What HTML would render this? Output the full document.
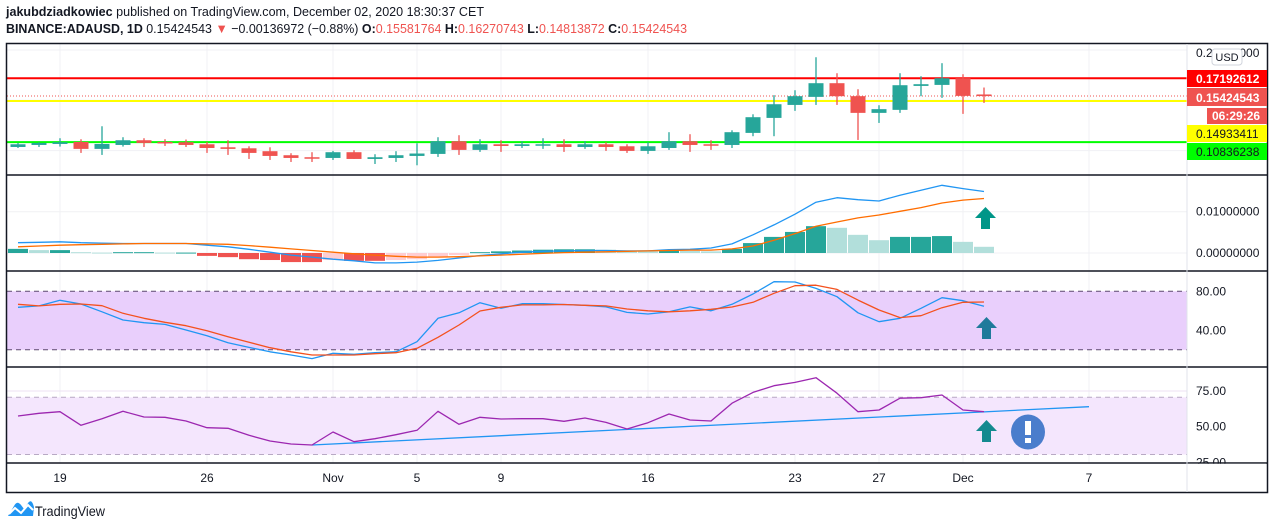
<!DOCTYPE html>
<html><head><meta charset="utf-8"><style>
html,body{margin:0;padding:0;background:#fff;}
svg{display:block;font-family:"Liberation Sans",sans-serif;}
</style></head><body>
<svg id="chart" width="1274" height="529" viewBox="0 0 1274 529" xmlns="http://www.w3.org/2000/svg">
<text x="6" y="16" font-size="13" fill="#131722" textLength="478" lengthAdjust="spacingAndGlyphs"><tspan font-weight="bold">jakubdziadkowiec</tspan> published on TradingView.com, December 02, 2020 18:30:37 CET</text>
<text x="6" y="33" font-size="13" fill="#131722" textLength="681" lengthAdjust="spacingAndGlyphs"><tspan font-weight="bold">BINANCE:ADAUSD, 1D</tspan> 0.15424543 <tspan fill="#ef5350">▼</tspan> −0.00136972 (−0.88%) <tspan font-weight="bold">O:</tspan><tspan fill="#ef5350">0.15581764</tspan> <tspan font-weight="bold">H:</tspan><tspan fill="#ef5350">0.16270743</tspan> <tspan font-weight="bold">L:</tspan><tspan fill="#ef5350">0.14813872</tspan> <tspan font-weight="bold">C:</tspan><tspan fill="#ef5350">0.15424543</tspan></text>

<defs>
<clipPath id="cMain"><rect x="7" y="44" width="1180" height="131"/></clipPath>
<clipPath id="cMacd"><rect x="7" y="176" width="1180" height="95"/></clipPath>
<clipPath id="cSto"><rect x="7" y="272" width="1180" height="95"/></clipPath>
<clipPath id="cRsi"><rect x="7" y="368" width="1180" height="95"/></clipPath>
</defs>

<g id="grid"></g>
<!-- stochastic band -->
<rect x="7" y="291.3" width="1180" height="58.5" fill="#e9cffc"/>
<rect x="7" y="397.3" width="1180" height="57.2" fill="#f4e6fd"/>
<line x1="7" x2="1187" y1="291.3" y2="291.3" stroke="#5d4a6e" stroke-dasharray="5,4"/>
<line x1="7" x2="1187" y1="349.8" y2="349.8" stroke="#5d4a6e" stroke-dasharray="5,4"/>
<line x1="7" x2="1187" y1="397.3" y2="397.3" stroke="#b8a9c4" stroke-dasharray="5,4"/>
<line x1="7" x2="1187" y1="454.5" y2="454.5" stroke="#b8a9c4" stroke-dasharray="5,4"/>

<g id="main" clip-path="url(#cMain)"></g>
<g id="macd" clip-path="url(#cMacd)"></g>
<g id="sto" clip-path="url(#cSto)"></g>
<g id="rsi" clip-path="url(#cRsi)"></g>

<!-- frames -->
<g stroke="#131722" fill="none">
<rect x="6.5" y="43.5" width="1261" height="449" stroke-width="1.5"/>
<line x1="6" x2="1268" y1="175" y2="175" stroke-width="1.5"/>
<line x1="6" x2="1268" y1="271" y2="271" stroke-width="1.5"/>
<line x1="6" x2="1268" y1="367" y2="367" stroke-width="1.5"/>
<line x1="6" x2="1268" y1="463" y2="463" stroke-width="1.5"/>
<line x1="1187" x2="1187" y1="44" y2="492" stroke="#e0e3eb" stroke-width="1"/>
</g>

<g id="axes" font-size="12" fill="#131722"></g>

<!-- markers -->
<path d="M975,218 L985.5,207 L996,218 L990,218 L990,229 L981,229 L981,218 Z" fill="#009688"/>
<path d="M976,328 L986.5,317 L997,328 L991,328 L991,339 L982,339 L982,328 Z" fill="#1f7a9b"/>
<path d="M976,431 L986.5,420 L997,431 L991,431 L991,442 L982,442 L982,431 Z" fill="#138a8f"/>
<g>
<ellipse cx="1028" cy="432" rx="17" ry="17.5" fill="#4a7dcc"/>
<rect x="1025" y="421" width="6" height="14" fill="#fff"/>
<rect x="1025" y="438" width="6" height="5" fill="#fff"/>
</g>

<!-- logo -->
<g>
<path d="M8,516 L14,506 Q17,500 21,505 L24,509 L28,503 Q31,499 33,504 L34,507 L33,516 Z" fill="#2196f3"/>
<path d="M9,514 L15,508 L21,513 L28,505 L33,510" stroke="#fff" stroke-width="2" fill="none"/>
<text x="35" y="516" font-size="14" fill="#131722" textLength="70" lengthAdjust="spacingAndGlyphs">TradingView</text>
</g>
</svg>
<script>
// ---- data ----
const opens  = [.1036,.1056,.1066,.1086,.1017,.1056,.1103,.1086,.1083,.1063,.1033,.1023,.0994,.0954,.0934,.0927,.0984,.0917,.0927,.0947,.0967,.1093,.1007,.1063,.1046,.1056,.1063,.1036,.1063,.1043,.0997,.1026,.1093,.1063,.1056,.1176,.1325,.1454,.1534,.1670,.1541,.1375,.1405,.1643,.1653,.1719,.1558];
const highs  = [.1076,.1083,.1123,.1113,.1242,.1133,.1123,.1113,.1110,.1086,.1103,.1043,.1033,.0974,.0984,.0997,.1004,.0964,.0994,.1073,.1133,.1153,.1113,.1103,.1093,.1123,.1113,.1093,.1083,.1063,.1083,.1183,.1163,.1103,.1202,.1361,.1551,.1600,.1928,.1769,.1610,.1451,.1769,.1739,.1869,.1759,.1627];
const lows   = [.1026,.1036,.1040,.0977,.0957,.1040,.1036,.1046,.1036,.0977,.0957,.0917,.0907,.0887,.0887,.0907,.0917,.0867,.0887,.0854,.0937,.0957,.0987,.0987,.1026,.1017,.0987,.1017,.0997,.0977,.0967,.1007,.0987,.1007,.1026,.1143,.1143,.1395,.1454,.1454,.1106,.1275,.1375,.1541,.1524,.1365,.1474];
const closes = [.1063,.1076,.1083,.1017,.1066,.1103,.1076,.1073,.1056,.1026,.1017,.0977,.0947,.0927,.0927,.0984,.0917,.0934,.0954,.0971,.1093,.1007,.1063,.1046,.1063,.1063,.1036,.1063,.1036,.0997,.1043,.1093,.1056,.1056,.1183,.1332,.1461,.1541,.1670,.1541,.1375,.1412,.1650,.1660,.1719,.1544,.1542];
const hlevels = [0.17192612, 0.14933411, 0.10836238];
const lastPrice = 0.15424543;
const macdHist = [.0010,.0007,.0007,.0002,.0001,.0002,.0002,.0001,.0001,-.0007,-.0010,-.0015,-.0017,-.0022,-.0022,-.0017,-.0019,-.0019,-.0017,-.0015,-.0010,-.0005,.0002,.0004,.0006,.0008,.0009,.0009,.0008,.0005,.0004,.0006,.0005,.0004,.0010,.0024,.0039,.0051,.0065,.0061,.0044,.0031,.0039,.0039,.0041,.0027,.0015];
const macdLine = [.0025,.0026,.0027,.0025,.0024,.0023,.0023,.0023,.0023,.0019,.0015,.0009,.0002,-.0005,-.0010,-.0015,-.0019,-.0024,-.0024,-.0022,-.0018,-.0012,-.0006,-.0002,.0002,.0004,.0005,.0006,.0006,.0005,.0005,.0008,.0009,.0012,.0022,.0044,.0068,.0094,.0123,.0134,.0129,.0126,.0140,.0152,.0164,.0156,.0149];
const signalLine = [.0015,.0017,.0019,.0020,.0021,.0022,.0023,.0023,.0023,.0022,.0021,.0018,.0014,.0010,.0006,.0002,-.0002,-.0005,-.0008,-.0010,-.0010,-.0009,-.0007,-.0005,-.0003,-.0001,.0001,.0002,.0003,.0004,.0005,.0006,.0007,.0007,.0010,.0017,.0031,.0047,.0065,.0075,.0085,.0092,.0101,.0110,.0121,.0128,.0132];
const stochK = [63.6,65,70.8,67,59,50.6,47.8,46,40.3,34.5,27.3,22.5,18,14.7,11,16.4,15.4,17,18,28.3,52.3,58,68.3,62.6,67.3,67.3,66.5,65.6,64,58.4,56.7,59,64,60,66.7,77.2,89.8,89.5,83,74.5,58,48.8,52.3,62.6,73.4,70.4,64.6];
const stochD = [66.7,65,66.7,67,65.2,57.4,52.3,48.2,44.7,39.6,33.4,27.7,22.2,18,14.7,14.7,14.7,16,17,21.5,32.8,45.4,59.8,63.6,66,66,66.5,65.6,65,61.8,60,59,60,61.5,63.9,68.7,78,85.7,86.3,82,71,60.8,53,55,63.2,68.7,69];
const rsiVals = [57.5,59.4,60.5,51,55.6,60.8,56.8,56.6,54,49.3,48.9,44,40,37.9,37.2,46.3,39.5,41.6,44.4,47.5,60.8,51.7,56.6,55.4,55.6,55.6,53.8,56.1,53,48.4,52.8,58.9,54.7,54,66.4,74,78.7,81,84.3,73.4,60.5,61.7,69.9,70.3,72.2,61.7,60.5];
const rsiTrendIdx = [14, 51];
const rsiTrendVal = [37.2, 64];
const dateLabels = ["19","26","Nov","5","9","16","23","27","Dec","7"];
const dateIdx = [2,9,15,19,23,30,37,41,45,51];
const macdTicks = [0.01, 0];
const macdTickLabels = ["0.01000000","0.00000000"];
const stochTicks = [80, 40];
const stochTickLabels = ["80.00","40.00"];
const rsiTicks = [75, 50, 25];
const rsiTickLabels = ["75.00","50.00","25.00"];

// ---- scales ----
const NS = "http://www.w3.org/2000/svg";
const xOf = i => 18 + 21*i;
const yP = p => 50 + (0.2 - p)*1006;
const yM = v => 253 - v*4130;
const yS = v => 291.3 + (80 - v)*0.975;
const yR = v => 426.7 - (v - 50)*1.43;
function mk(tag, attrs, parent){ const e=document.createElementNS(NS,tag); for(const k in attrs) e.setAttribute(k,attrs[k]); parent.appendChild(e); return e; }

const grid = document.getElementById('grid');
dateIdx.forEach(i=>{
  const l = mk('line',{x1:xOf(i),x2:xOf(i),y1:44,y2:463,stroke:'#f0f1f4','stroke-width':1},grid);
  
  
});
[0.2,0.15,0.1].forEach(p=>{
  const l = mk('line',{x1:7,x2:1187,y1:yP(p),y2:yP(p),stroke:'#f0f1f4'},grid);
  
  
});
macdTicks.forEach(v=>{ const l=mk('line',{x1:7,x2:1187,y1:yM(v),y2:yM(v),stroke:'#f0f1f4'},grid);
  
   });
const g40 = mk('line',{x1:7,x2:1187,y1:yS(50),y2:yS(50),stroke:'#dcc3ee'},grid);


[75,50].forEach(v=>{ const l=mk('line',{x1:7,x2:1187,y1:yR(v),y2:yR(v),stroke:'#ece2f3'},grid);
  
   });

// ---- main pane ----
const main = document.getElementById('main');
const hcol = ['#ff0000','#ffff00','#00ff00'];
hlevels.forEach((p,k)=>{
  const l = mk('line',{x1:7,x2:1187,y1:yP(p),y2:yP(p),stroke:hcol[k],'stroke-width':2},main);
  
  
});
const pl = mk('line',{x1:7,x2:1187,y1:yP(lastPrice),y2:yP(lastPrice),stroke:'#ef5350','stroke-dasharray':'1,2','stroke-width':1},main);


opens.forEach((o,i)=>{
  const c = closes[i], up = c >= o, col = up ? '#26a69a' : '#ef5350';
  const x = xOf(i);
  const w = mk('line',{x1:x,x2:x,y1:yP(highs[i]),y2:yP(lows[i]),stroke:col,'stroke-width':1.3},main);
  
  
  const top = yP(Math.max(o,c)), bot = yP(Math.min(o,c));
  const b = mk('rect',{x:x-7.5,y:top,width:15,height:Math.max(1.5,bot-top),fill:col},main);
  
  
});

// ---- MACD ----
const macd = document.getElementById('macd');
macdHist.forEach((v,i)=>{
  const prev = i>0 ? macdHist[i-1] : v;
  let col;
  if (v>=0) col = v>=prev ? '#26a69a' : '#b2dfdb'; else col = v<=prev ? '#ef5350' : '#ffcdd2';
  const y0 = yM(0), y1 = yM(v);
  const r = mk('rect',{x:xOf(i)-10,y:Math.min(y0,y1),width:20,height:Math.max(1,Math.abs(y1-y0)),fill:col},macd);
  
  
});
function poly(parent, vals, ys, col, name, w){
  const pts = vals.map((v,i)=>xOf(i)+','+ys(v).toFixed(1)).join(' ');
  const p = mk('polyline',{points:pts,fill:'none',stroke:col,'stroke-width':w||1.3,'stroke-linejoin':'round'},parent);
  
  
}
poly(macd, macdLine, yM, '#2196f3', 'macd-line');
poly(macd, signalLine, yM, '#ff6d00', 'signal-line');

// ---- Stoch ----
const sto = document.getElementById('sto');
poly(sto, stochK, yS, '#2196f3', 'stoch-k-line');
poly(sto, stochD, yS, '#f4511e', 'stoch-d-line');

// ---- RSI ----
const rsi = document.getElementById('rsi');
const tl = mk('line',{x1:xOf(rsiTrendIdx[0]),y1:yR(rsiTrendVal[0]),x2:xOf(rsiTrendIdx[1]),y2:yR(rsiTrendVal[1]),stroke:'#2196f3','stroke-width':1.3},rsi);


poly(rsi, rsiVals, yR, '#9c27b0', 'rsi-line');

// ---- axes ----
const ax = document.getElementById('axes');
function txt(x,y,s,name,attrs){ const t=mk('text',Object.assign({x:x,y:y},attrs||{}),ax); t.textContent=s;
  
   return t; }
dateLabels.forEach((s,k)=>{ txt(xOf(dateIdx[k]),482,s,'date-label',{'text-anchor':'middle'}); });
txt(1196,57,'0.20000000','price-tick-label');
macdTicks.forEach((v,k)=>{ txt(1196,yM(v)+4,macdTickLabels[k],'macd-tick-label'); });
stochTicks.forEach((v,k)=>{ txt(1196,yS(v)+4,stochTickLabels[k],'stoch-tick-label'); });
rsiTicks.forEach((v,k)=>{ txt(1196,yR(v)+4,rsiTickLabels[k],'rsi-tick-label'); });
// cover bottom overflow of 25.00 label
const cov = mk('rect',{x:1188,y:463.8,width:78,height:10,fill:'#fff'},ax);


// USD badge
const usd = mk('rect',{x:1212,y:49,width:30,height:16,rx:3,fill:'#fff',stroke:'#d1d4dc'},ax);


txt(1227,61,'USD','currency-label',{'text-anchor':'middle','font-size':'11'});
// price labels
const plabels = [
  {y:70,h:17,x:1187,w:80,bg:'#ff0000',fg:'#fff',s:'0.17192612',b:true},
  {y:88,h:18,x:1187,w:80,bg:'#ef5350',fg:'#fff',s:'0.15424543',b:true},
  {y:108,h:16,x:1207,w:60,bg:'#ef5350',fg:'#fff',s:'06:29:26',b:true},
  {y:125,h:17,x:1187,w:80,bg:'#ffff00',fg:'#131722',s:'0.14933411',b:false},
  {y:143,h:17,x:1187,w:80,bg:'#00ff00',fg:'#131722',s:'0.10836238',b:false}
];
plabels.forEach(L=>{
  const r = mk('rect',{x:L.x,y:L.y,width:L.w,height:L.h,fill:L.bg},ax);
  
  
  txt(L.x===1187?1196:1212,L.y+L.h-4,L.s,'price-label-text',{fill:L.fg,'font-weight':L.b?'bold':'normal'});
});
</script>
</body></html>
